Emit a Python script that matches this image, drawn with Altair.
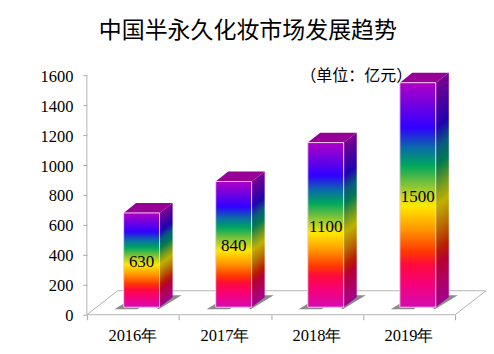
import altair as alt
import pandas as pd

categories = ["2016年", "2017年", "2018年", "2019年"]
values = [630, 840, 1100, 1500]
title_text = "中国半永久化妆市场发展趋势"
unit_text = "（单位：亿元）"
y_ticks = [0, 200, 400, 600, 800, 1000, 1200, 1400, 1600]

# bar geometry in data units
BASE = 50
BAR_START = 0.40
BAR_W = 0.39
DX = 0.135
DY = 66
PH = 240 / 1600

stop_offsets = [0, 0.10, 0.19, 0.25, 0.35, 0.45, 0.53, 0.63, 0.71, 0.80, 1]
stop_colors = ["#d40cb0", "#f5007c", "#ff0a3c", "#ff3a00", "#ff9a00", "#ffe800",
               "#98c830", "#00a85c", "#0a6ca8", "#3000ff", "#b000c4"]
side_colors = ["#a00090", "#b00060", "#b80030", "#b82000", "#b87000", "#c0b000",
               "#709a20", "#007a50", "#085a80", "#2000b0", "#7a0090"]


def gradient(colors, **coords):
    return alt.Gradient(
        gradient="linear",
        stops=[alt.GradientStop(offset=o, color=c) for o, c in zip(stop_offsets, colors)],
        **coords,
    )


X = alt.Scale(domain=[0, 4.336], range=[0, 400], nice=False, zero=False)
Y = alt.Scale(domain=[0, 1600], range=[240, 0], nice=False, zero=False)
x_axis = alt.Axis(values=[0, 1, 2, 3, 4], labels=False, title=None, grid=False, domain=False,
                  tickColor="#a8a8a8", tickSize=5)
y_axis = alt.Axis(values=y_ticks, format="d", title=None, grid=False, domain=False,
                  tickColor="#a8a8a8", tickSize=4, labelFont="Liberation Serif",
                  labelFontSize=16.5, labelColor="#000000", labelPadding=10, labelOffset=1,
                  labelOverlap=False, labelBound=False, labelFlush=False)
x_plain = alt.X("x:Q", scale=X, axis=x_axis)
y_plain = alt.Y("y:Q", scale=Y, axis=y_axis)
y_nostack = alt.Y("y:Q", scale=Y, stack=None, axis=y_axis)

axes = (
    alt.Chart(pd.DataFrame({"x": [0, 0], "y": [0, 1600]}))
    .mark_line(color="#b4b4b4", strokeWidth=1)
    .encode(x=x_plain, y=y_plain)
)

floor_x = [0, 0.335, 4.336, 4, 0]
floor_y = [0, 160, 160, 0, 0]
floor = (
    alt.Chart(pd.DataFrame({"x": floor_x, "y": floor_y, "o": range(5)}))
    .mark_line(color="#b4b4b4", strokeWidth=1, clip=False)
    .encode(x=x_plain, y=y_plain, order="o:Q")
)

layers = [axes, floor]

for i, v in enumerate(values):
    l = i + BAR_START
    r = l + BAR_W
    top = BASE + v

    shadow = pd.DataFrame({
        "x": [l - 0.10, l + 0.15, r - 0.01, r + 0.24],
        "y": [BASE - 14, BASE + 80, BASE - 14, BASE + 80],
        "y2": [BASE - 14, BASE - 14, BASE + 80, BASE + 80],
    })
    layers.append(
        alt.Chart(shadow).mark_area(color="#7e7e7e", line=False, opacity=0.9)
        .encode(x=x_plain, y=y_nostack, y2="y2:Q")
    )

    # side face: gradient bands slant with the depth
    H_px = (top - BASE + DY) * PH
    d = DY * PH / H_px
    b = (d - 1) / (d * d + 1)
    a = d * b
    side = pd.DataFrame({
        "x": [r, r + DX * 1.05],
        "y": [BASE, BASE + DY],
        "y2": [top, top + DY],
    })
    layers.append(
        alt.Chart(side).mark_area(
            color=gradient(side_colors, x1=0, y1=1, x2=a, y2=1 + b), line=False)
        .encode(x=x_plain, y=y_nostack, y2="y2:Q")
    )

    # top face
    top_df = pd.DataFrame({
        "x": [l, l + DX, r, r + DX * 1.05],
        "y": [top, top, top, top + DY],
        "y2": [top, top + DY, top + DY, top + DY],
    })
    layers.append(
        alt.Chart(top_df).mark_area(color="#960096", line=False)
        .encode(x=x_plain, y=y_nostack, y2="y2:Q")
    )

    # front face
    front = pd.DataFrame({"x": [l], "x2": [r], "y": [BASE], "y2": [top]})
    layers.append(
        alt.Chart(front).mark_rect(
            color=gradient(stop_colors, x1=0, y1=1, x2=0, y2=0),
            stroke="#f6c8f2", strokeWidth=1)
        .encode(x=x_plain, x2="x2:Q", y=y_plain, y2="y2:Q")
    )

labels = pd.DataFrame({
    "x": [i + BAR_START + BAR_W / 2 for i in range(4)],
    "y": [BASE + v / 2 for v in values],
    "t": [str(v) for v in values],
})
layers.append(
    alt.Chart(labels).mark_text(font="Liberation Serif", fontSize=17, color="#000000", dy=2)
    .encode(x=x_plain, y=y_plain, text="t:N")
)

cats = pd.DataFrame({"x": [i + 0.5 for i in range(4)], "t": categories})
layers.append(
    alt.Chart(cats).mark_text(font="Liberation Serif", fontSize=16.5, color="#000000", baseline="middle")
    .encode(x=x_plain, y=alt.value(261), text="t:N")
)

layers.append(
    alt.Chart(pd.DataFrame({"x": [2.32], "y": [1592], "t": [unit_text]}))
    .mark_text(font="Noto Sans CJK SC", fontSize=16, color="#000000", align="left")
    .encode(x=x_plain, y=y_plain, text="t:N")
)

chart = (
    alt.layer(*layers)
    .properties(
        width=400,
        height=240,
        padding={"left": 79, "top": 67, "right": 0, "bottom": 30},
        autosize=alt.AutoSizeParams(type="none"),
        title=alt.TitleParams(
            title_text, font="Noto Sans CJK SC", fontSize=23, fontWeight="normal",
            color="#000000", anchor="start", frame="group", dx=12, offset=25,
        ),
    )
    .configure_view(stroke=None)
)

chart.save("out.html", embed_options={"renderer": "svg", "actions": False})
